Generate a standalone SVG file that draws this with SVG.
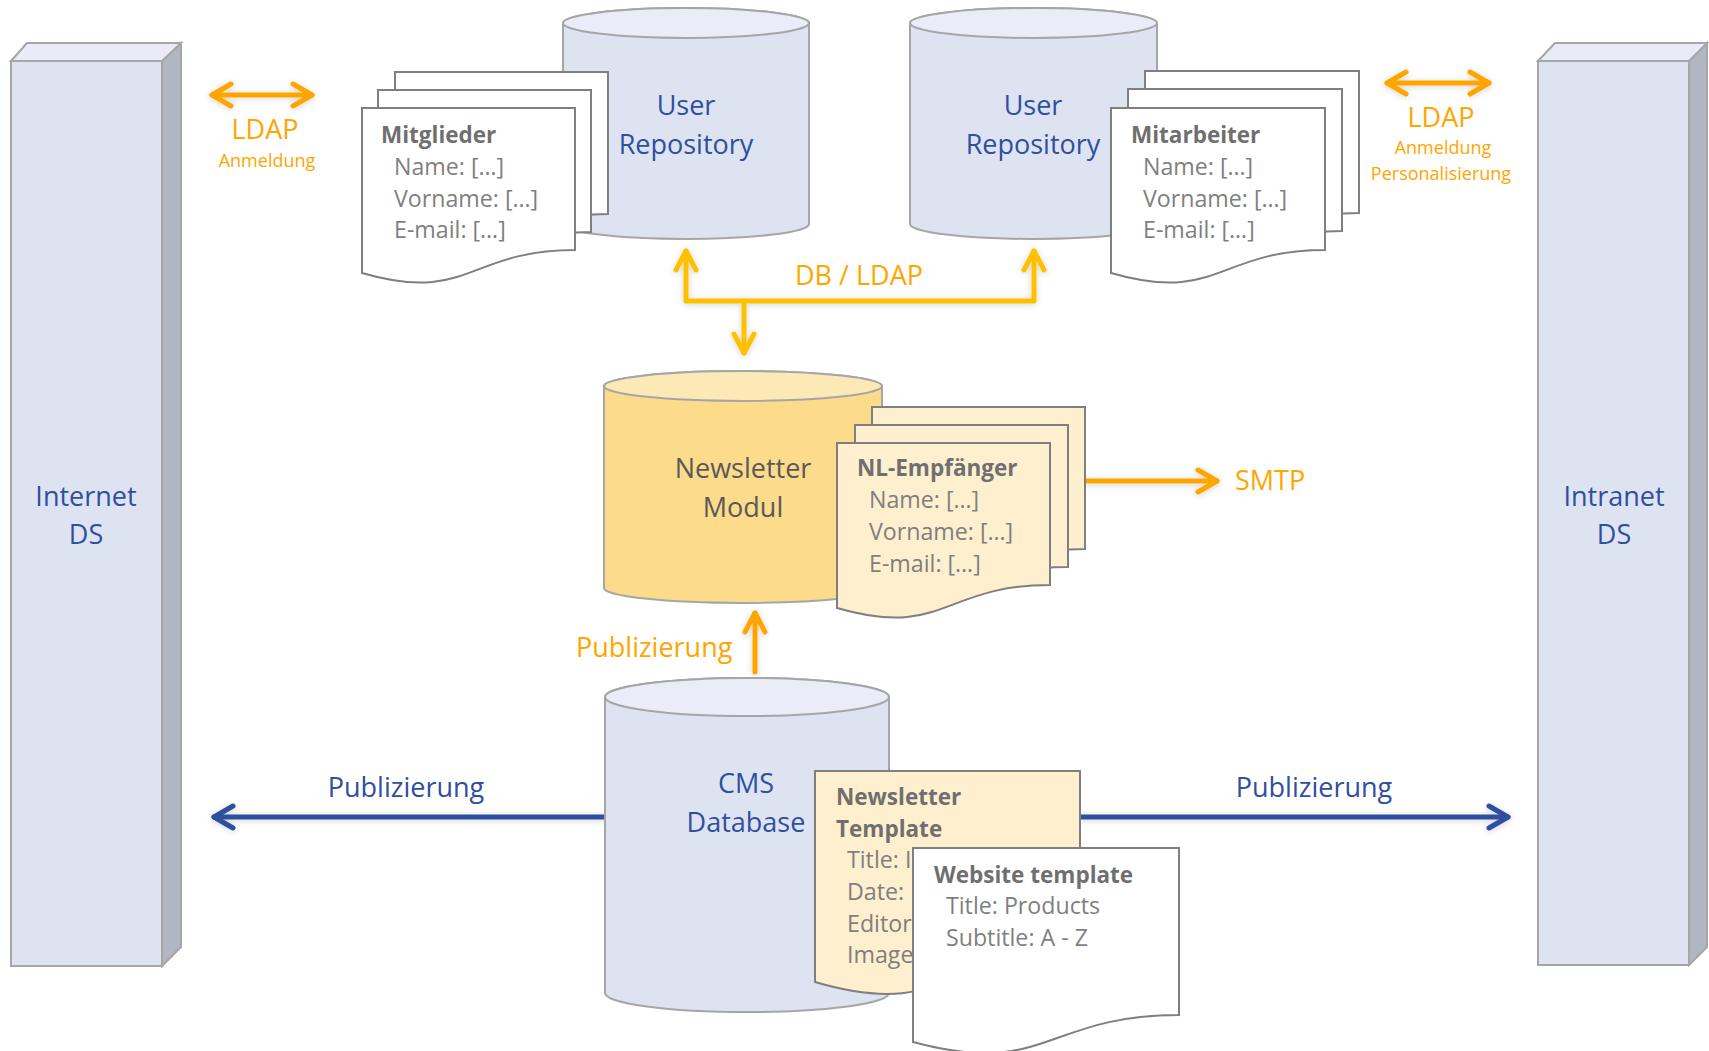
<svg xmlns="http://www.w3.org/2000/svg" width="1709" height="1051" viewBox="0 0 1709 1051">
<defs>
<style>
text{font-family:"Open Sans","Noto Sans","DejaVu Sans",sans-serif}
.ds-front{fill:#dee3f2;stroke:#a6a6a6;stroke-width:2}
.ds-top{fill:#e9ecf6;stroke:#a6a6a6;stroke-width:2}
.ds-side{fill:#b1b6c3;stroke:#a6a6a6;stroke-width:2}
.cyl-b{fill:#dee3f2;stroke:#a6a6a6;stroke-width:2}
.cyl-t{fill:#eaedf7;stroke:#a6a6a6;stroke-width:2}
.cyl-yb{fill:#fcdc8b;stroke:#a6a6a6;stroke-width:2}
.cyl-yt{fill:#fde9b6;stroke:#a6a6a6;stroke-width:2}
.doc{fill:#ffffff;stroke:#7f7f7f;stroke-width:2}
.doc-y{fill:#feefcf;stroke:#7f7f7f;stroke-width:2}
.blue{fill:#2f4f9f;font-size:27px}
.dark{fill:#595959;font-size:27px}
.org{fill:#ffa500;font-size:27px}
.org-s{fill:#ffa500;font-size:18px}
.ttl{fill:#6f6f6f;font-size:22.5px;font-weight:bold}
.fld{fill:#7f7f7f;font-size:23.2px}
.ln-o{fill:none;stroke:#ffa500;stroke-width:5;stroke-linecap:round;stroke-linejoin:round}
.ln-y{fill:none;stroke:#ffc000;stroke-width:5;stroke-linecap:round;stroke-linejoin:round}
.ln-b{fill:none;stroke:#2f4f9f;stroke-width:5;stroke-linecap:round;stroke-linejoin:round}
</style>
<filter id="glow" x="-20%" y="-50%" width="140%" height="200%">
<feGaussianBlur in="SourceAlpha" stdDeviation="3"/>
<feOffset dx="0" dy="1" result="b"/>
<feFlood flood-color="#000" flood-opacity="0.18"/>
<feComposite in2="b" operator="in"/>
<feMerge><feMergeNode/><feMergeNode in="SourceGraphic"/></feMerge>
</filter>
</defs>
<rect width="1709" height="1051" fill="#ffffff"/>

<g id="connectors">
  <g id="ldap-left" filter="url(#glow)">
    <path class="ln-o" d="M212,95 H312"/>
    <path class="ln-o" d="M231,84 L212,95 L231,106"/>
    <path class="ln-o" d="M293,84 L312,95 L293,106"/>
  </g>
  <g id="ldap-right" filter="url(#glow)">
    <path class="ln-o" d="M1387,83 H1489"/>
    <path class="ln-o" d="M1406,72 L1387,83 L1406,94"/>
    <path class="ln-o" d="M1470,72 L1489,83 L1470,94"/>
  </g>
  <g id="db-ldap" filter="url(#glow)">
    <path class="ln-y" d="M686,251 V301 H1034 V251"/>
    <path class="ln-y" d="M676,270 L686,251 L696,270"/>
    <path class="ln-y" d="M1024,270 L1034,251 L1044,270"/>
    <path class="ln-y" d="M744,301 V353"/>
    <path class="ln-y" d="M734,334 L744,353 L754,334"/>
  </g>
  <g id="smtp" filter="url(#glow)">
    <path class="ln-o" d="M1086,481 H1217"/>
    <path class="ln-o" d="M1198,470 L1217,481 L1198,492"/>
  </g>
  <g id="publ-up" filter="url(#glow)">
    <path class="ln-o" d="M755,672 V613"/>
    <path class="ln-o" d="M745,632 L755,613 L765,632"/>
  </g>
  <g id="publ-left" filter="url(#glow)">
    <path class="ln-b" d="M606,817 H214"/>
    <path class="ln-b" d="M233,806 L214,817 L233,828"/>
  </g>
  <g id="publ-right" filter="url(#glow)">
    <path class="ln-b" d="M1080,817 H1508"/>
    <path class="ln-b" d="M1489,806 L1508,817 L1489,828"/>
  </g>
  <text class="org" x="265" y="139" text-anchor="middle">LDAP</text>
  <text class="org-s" x="267" y="167" text-anchor="middle">Anmeldung</text>
  <text class="org" x="1441" y="127" text-anchor="middle">LDAP</text>
  <text class="org-s" x="1443" y="154" text-anchor="middle">Anmeldung</text>
  <text class="org-s" x="1441" y="180" text-anchor="middle">Personalisierung</text>
  <text class="org" x="859" y="285" text-anchor="middle">DB / LDAP</text>
  <text class="org" x="1235" y="490">SMTP</text>
  <text class="org" x="576" y="657">Publizierung</text>
  <text class="blue" x="406" y="797" text-anchor="middle">Publizierung</text>
  <text class="blue" x="1314" y="797" text-anchor="middle">Publizierung</text>
</g>

<g id="internet-ds">
  <polygon class="ds-side" points="162,61 181,43 181,947 162,966"/>
  <polygon class="ds-top" points="11,61 27,43 181,43 162,61"/>
  <rect class="ds-front" x="11" y="61" width="151" height="905"/>
  <text class="blue" x="86" y="506" text-anchor="middle">Internet</text>
  <text class="blue" x="86" y="544" text-anchor="middle">DS</text>
</g>

<g id="intranet-ds">
  <polygon class="ds-side" points="1689,61 1707,43 1707,947 1689,965"/>
  <polygon class="ds-top" points="1538,61 1555,43 1707,43 1689,61"/>
  <rect class="ds-front" x="1538" y="61" width="151" height="904"/>
  <text class="blue" x="1614" y="506" text-anchor="middle">Intranet</text>
  <text class="blue" x="1614" y="544" text-anchor="middle">DS</text>
</g>

<g id="user-repo-left">
  <path class="cyl-b" d="M563,23 V224 A123,15 0 0 0 809,224 V23 A123,15 0 0 0 563,23 Z"/>
  <ellipse class="cyl-t" cx="686" cy="23" rx="123" ry="15"/>
  <text class="blue" x="686" y="115" text-anchor="middle">User</text>
  <text class="blue" x="686" y="154" text-anchor="middle">Repository</text>
</g>

<g id="mitglieder">
  <path class="doc" d="M395,72 H608 V214 C501.5,214 501.5,268 395,237 Z"/>
  <path class="doc" d="M378,90 H591 V232 C484.5,232 484.5,286 378,255 Z"/>
  <path class="doc" d="M362,108 H575 V250 C468.5,250 468.5,304 362,273 Z"/>
  <text class="ttl" x="381" y="143">Mitglieder</text>
  <text class="fld" x="394" y="175">Name: […]</text>
  <text class="fld" x="394" y="207">Vorname: […]</text>
  <text class="fld" x="394" y="238">E-mail: […]</text>
</g>

<g id="user-repo-right">
  <path class="cyl-b" d="M910,23 V224 A123.5,15 0 0 0 1157,224 V23 A123.5,15 0 0 0 910,23 Z"/>
  <ellipse class="cyl-t" cx="1033.5" cy="23" rx="123.5" ry="15"/>
  <text class="blue" x="1033" y="115" text-anchor="middle">User</text>
  <text class="blue" x="1033" y="154" text-anchor="middle">Repository</text>
</g>

<g id="mitarbeiter">
  <path class="doc" d="M1145,71 H1359 V213 C1252,213 1252,267 1145,236 Z"/>
  <path class="doc" d="M1128,89 H1342 V231 C1235,231 1235,285 1128,254 Z"/>
  <path class="doc" d="M1111,108 H1325 V250 C1218,250 1218,304 1111,273 Z"/>
  <text class="ttl" x="1131" y="143">Mitarbeiter</text>
  <text class="fld" x="1143" y="175">Name: […]</text>
  <text class="fld" x="1143" y="207">Vorname: […]</text>
  <text class="fld" x="1143" y="238">E-mail: […]</text>
</g>

<g id="newsletter-modul">
  <path class="cyl-yb" d="M604,386 V588 A139,15 0 0 0 882,588 V386 A139,15 0 0 0 604,386 Z"/>
  <ellipse class="cyl-yt" cx="743" cy="386" rx="139" ry="15"/>
  <text class="dark" x="743" y="478" text-anchor="middle">Newsletter</text>
  <text class="dark" x="743" y="517" text-anchor="middle">Modul</text>
</g>

<g id="nl-empfaenger">
  <path class="doc-y" d="M872,407 H1085 V549 C978.5,549 978.5,603 872,572 Z"/>
  <path class="doc-y" d="M855,425 H1068 V567 C961.5,567 961.5,621 855,590 Z"/>
  <path class="doc-y" d="M837,443 H1050 V585 C943.5,585 943.5,639 837,608 Z"/>
  <text class="ttl" x="857" y="476">NL-Empfänger</text>
  <text class="fld" x="869" y="508">Name: […]</text>
  <text class="fld" x="869" y="540">Vorname: […]</text>
  <text class="fld" x="869" y="572">E-mail: […]</text>
</g>

<g id="cms-database">
  <path class="cyl-b" d="M605,697 V993 A142,19 0 0 0 889,993 V697 A142,19 0 0 0 605,697 Z"/>
  <ellipse class="cyl-t" cx="747" cy="697" rx="142" ry="19"/>
  <text class="blue" x="746" y="793" text-anchor="middle">CMS</text>
  <text class="blue" x="746" y="832" text-anchor="middle">Database</text>
</g>

<g id="newsletter-template">
  <path class="doc-y" d="M815,771 H1080 V952 C947.5,952 947.5,1021 815,982 Z"/>
  <text class="ttl" x="836" y="805">Newsletter</text>
  <text class="ttl" x="836" y="837">Template</text>
  <text class="fld" x="847" y="868">Title: I</text>
  <text class="fld" x="847" y="900">Date:</text>
  <text class="fld" x="847" y="932">Editor</text>
  <text class="fld" x="847" y="963">Image</text>
</g>

<g id="website-template">
  <path class="doc" d="M913,848 H1179 V1015 C1046,1015 1046,1078 913,1042 Z"/>
  <text class="ttl" x="934" y="883">Website template</text>
  <text class="fld" x="946" y="914">Title: Products</text>
  <text class="fld" x="946" y="946">Subtitle: A - Z</text>
</g>
</svg>
